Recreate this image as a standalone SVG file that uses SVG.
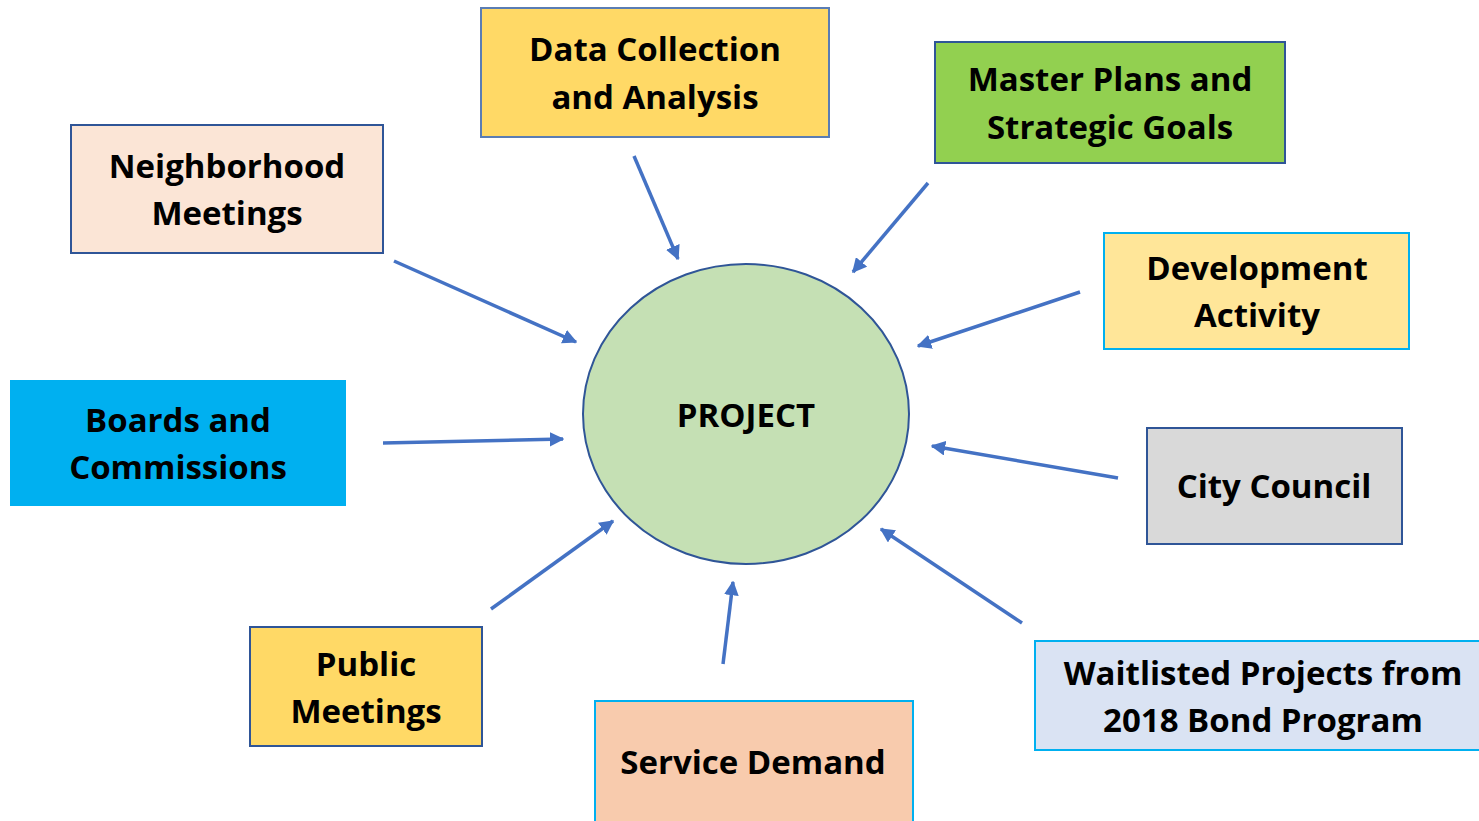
<svg xmlns="http://www.w3.org/2000/svg" width="1479" height="821" viewBox="0 0 1479 821">
<style>
.t{font-family:"Open Sans",Lato,"Liberation Sans",sans-serif;font-weight:bold;font-size:33px;fill:#000;text-anchor:middle}
.dk{stroke:#2F5597;stroke-width:2}
.lb{stroke:#00B0F0;stroke-width:2}
.c{stroke:#4472C4;stroke-width:3.5;fill:none;marker-end:url(#ah)}
</style>
<defs>
<marker id="ah" viewBox="0 0 10 10" refX="9" refY="5" markerWidth="4.2" markerHeight="4.2" orient="auto" markerUnits="strokeWidth">
<path d="M0,0 L10,5 L0,10 z" fill="#4472C4"/>
</marker>
</defs>
<rect width="1479" height="821" fill="#fff"/>
<g id="connectors">
<line class="c" x1="394" y1="261" x2="576" y2="342"/>
<line class="c" x1="634" y1="156" x2="678" y2="259"/>
<line class="c" x1="928" y1="183" x2="853" y2="272"/>
<line class="c" x1="1080" y1="292" x2="918" y2="346"/>
<line class="c" x1="1118" y1="478" x2="932" y2="446"/>
<line class="c" x1="1022" y1="623" x2="881" y2="529"/>
<line class="c" x1="723" y1="664" x2="733" y2="582"/>
<line class="c" x1="491" y1="609" x2="613" y2="521"/>
<line class="c" x1="383" y1="443" x2="563" y2="439"/>
</g>
<g id="project">
<ellipse cx="746" cy="414" rx="163" ry="150" fill="#C5E0B4" class="dk"/>
<text class="t" x="746" y="427">PROJECT</text>
</g>
<g id="neighborhood">
<rect x="71" y="125" width="312" height="128" fill="#FBE5D6" class="dk"/>
<text class="t" x="227" y="178">Neighborhood</text>
<text class="t" x="227" y="225">Meetings</text>
</g>
<g id="data">
<rect x="481" y="8" width="348" height="129" fill="#FFD966" stroke="#5A7DB4" stroke-width="2"/>
<text class="t" x="655" y="61">Data Collection</text>
<text class="t" x="655" y="109">and Analysis</text>
</g>
<g id="master">
<rect x="935" y="42" width="350" height="121" fill="#92D050" class="dk"/>
<text class="t" x="1110" y="91">Master Plans and</text>
<text class="t" x="1110" y="139">Strategic Goals</text>
</g>
<g id="development">
<rect x="1104" y="233" width="305" height="116" fill="#FFE699" class="lb"/>
<text class="t" x="1257" y="280">Development</text>
<text class="t" x="1257" y="327">Activity</text>
</g>
<g id="boards">
<rect x="10" y="380" width="336" height="126" fill="#00B0F0"/>
<text class="t" x="178" y="432">Boards and</text>
<text class="t" x="178" y="479">Commissions</text>
</g>
<g id="council">
<rect x="1147" y="428" width="255" height="116" fill="#D9D9D9" class="dk"/>
<text class="t" x="1274" y="498">City Council</text>
</g>
<g id="waitlisted">
<rect x="1035" y="641" width="450" height="109" fill="#DAE3F3" class="lb"/>
<text class="t" x="1263" y="685">Waitlisted Projects from</text>
<text class="t" x="1263" y="732">2018 Bond Program</text>
</g>
<g id="service">
<rect x="595" y="701" width="318" height="130" fill="#F8CBAD" class="lb"/>
<text class="t" x="753" y="774">Service Demand</text>
</g>
<g id="public">
<rect x="250" y="627" width="232" height="119" fill="#FFD966" class="dk"/>
<text class="t" x="366" y="676">Public</text>
<text class="t" x="366" y="723">Meetings</text>
</g>
</svg>
